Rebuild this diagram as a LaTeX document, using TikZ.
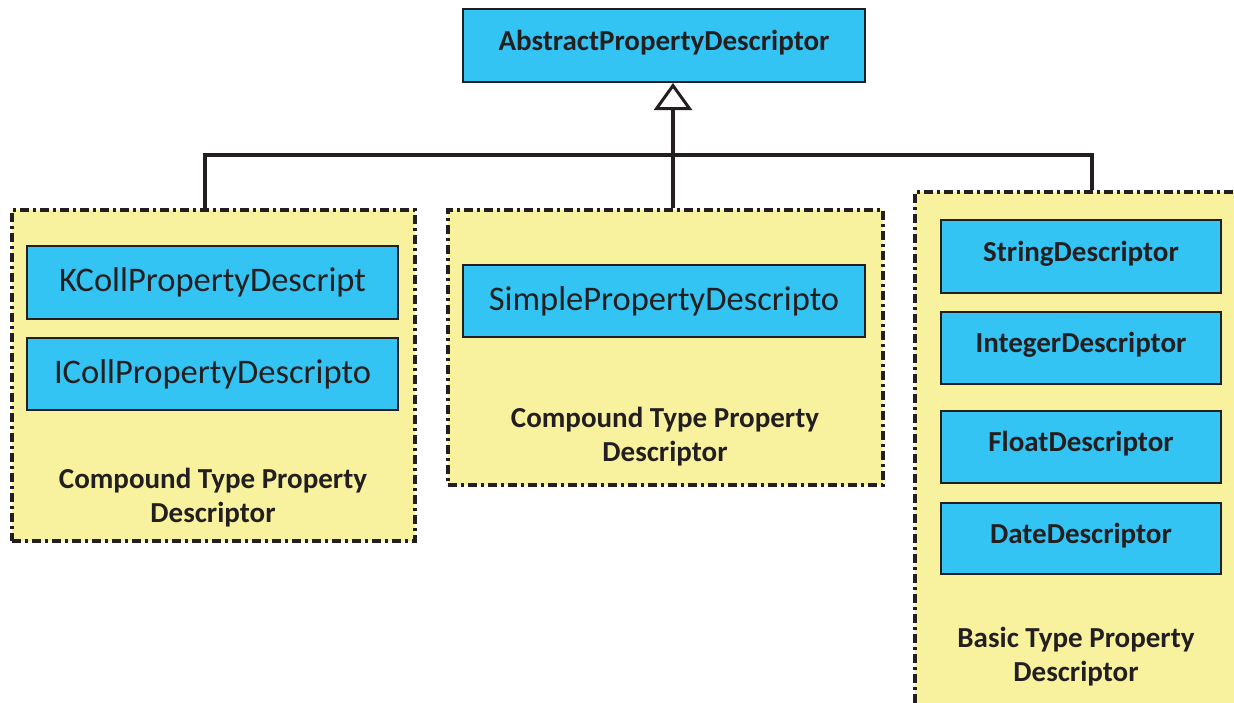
\documentclass[tikz,border=0pt]{standalone}
\usepackage{fontspec}
\setmainfont{Carlito}
\usetikzlibrary{arrows.meta}
\definecolor{cblue}{RGB}{52,196,243}
\definecolor{cyel}{RGB}{248,242,158}
\definecolor{ink}{RGB}{35,31,32}
\begin{document}
\begin{tikzpicture}[x=1pt,y=-1pt,
  cls/.style={draw=ink, line width=2pt, fill=cblue, inner sep=0pt, text=ink},
  clsreg/.style={cls, font=\fontsize{34.5}{36}\selectfont},
  clsbold/.style={cls, font=\bfseries\fontsize{29}{31}\selectfont, text height=21pt, text depth=12pt},
  grp/.style={draw=ink, fill=cyel, line width=3.2pt, dash pattern=on 9pt off 4pt on 3pt off 4pt, inner sep=0pt},
  lbl/.style={font=\bfseries\fontsize{29}{34}\selectfont, align=center, text=ink},
  conn/.style={line width=3.5pt, draw=ink}]
\useasboundingbox (0,0) rectangle (1234,702);
\clip (0,0) rectangle (1234,702);
% groups
\node[grp, minimum width=403pt, minimum height=331pt] (gleft) at (213.5,375.5) {};
\node[grp, minimum width=435pt, minimum height=275pt] (gmid) at (665.5,347.5) {};
\node[grp, minimum width=335pt, minimum height=528pt] (gright) at (1082.5,456) {};
% classes
\node[clsbold, minimum width=402pt, minimum height=73pt] (top) at (664,45.5) {AbstractPropertyDescriptor};
\node[clsreg, minimum width=371pt, minimum height=73pt] (kcoll) at (212.5,282.5) {KCollPropertyDescript};
\node[clsreg, minimum width=371pt, minimum height=72pt] (icoll) at (212.5,374) {ICollPropertyDescripto};
\node[clsreg, minimum width=402pt, minimum height=72pt] (simple) at (664,301) {SimplePropertyDescripto};
\node[clsbold, minimum width=280pt, minimum height=73pt] (str) at (1081,256.5) {StringDescriptor};
\node[clsbold, minimum width=280pt, minimum height=72pt] (int) at (1081,348) {IntegerDescriptor};
\node[clsbold, minimum width=280pt, minimum height=72pt] (flt) at (1081,447) {FloatDescriptor};
\node[clsbold, minimum width=280pt, minimum height=71pt] (date) at (1081,538.5) {DateDescriptor};
% labels
\node[lbl] (lleft) at (213,498) {Compound Type Property\\Descriptor};
\node[lbl] (lmid) at (665,437) {Compound Type Property\\Descriptor};
\node[lbl] (lright) at (1076,657) {Basic Type Property\\Descriptor};
% connectors
\coordinate (ap) at (673,155);
\coordinate (hl) at (205,155);
\coordinate (hr) at (1092,155);
\draw[conn] (gleft.north -| hl) |- (hr) -- (gright.north -| hr);
\draw[conn, -{Triangle[open, length=27pt, width=38pt, line width=3pt]}] (gmid.north -| ap) -- (top.south -| ap);
\draw[conn, line width=4.5pt] (gmid.north -| ap) -- (ap);
\end{tikzpicture}
\end{document}
